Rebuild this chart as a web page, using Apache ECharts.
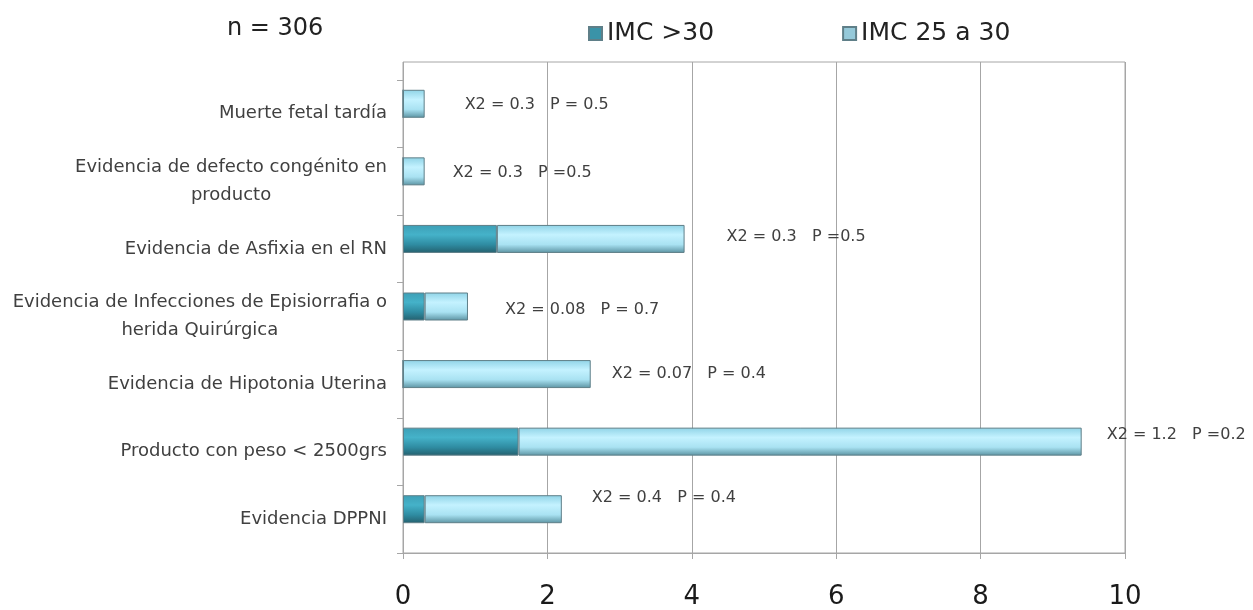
<!DOCTYPE html>
<html><head><meta charset="utf-8">
<script src="https://cdn.jsdelivr.net/npm/echarts@6/dist/echarts.min.js"></script>
<style>html,body{margin:0;padding:0;background:#fff}#c{width:1253px;height:610px}</style>
</head><body><div id="c"></div>
<script>
const categories = [
  "Muerte fetal tardía",
  "Evidencia de defecto congénito en\nproducto",
  "Evidencia de Asfixia en el RN",
  "Evidencia de Infecciones de Episiorrafia o\nherida Quirúrgica",
  "Evidencia de Hipotonia Uterina",
  "Producto con peso < 2500grs",
  "Evidencia DPPNI"
];
const imcOver30 = [0, 0, 1.3, 0.3, 0, 1.6, 0.3];
const imc25to30 = [0.3, 0.3, 2.6, 0.6, 2.6, 7.8, 1.9];
const annotations = [
  "X2 = 0.3   P = 0.5",
  "X2 = 0.3   P =0.5",
  "X2 = 0.3   P =0.5",
  "X2 = 0.08   P = 0.7",
  "X2 = 0.07   P = 0.4",
  "X2 = 1.2   P =0.2",
  "X2 = 0.4   P = 0.4"
];
const xTicks = { min: 0, max: 10, interval: 2 };
const seriesNames = ["IMC >30", "IMC 25 a 30"];
const titleText = "n = 306";

// layout only: label shifts relative to bar end
const labelShift = [[40,1],[28,1],[42,-2],[37,3],[21,0],[25,-7],[30,-11]];

const FONT = 'DejaVu Sans';
const darkFill = new echarts.graphic.LinearGradient(0,0,0,1,[
  {offset:0,color:'#3d9fb6'},{offset:0.35,color:'#45b2c9'},{offset:0.7,color:'#2f8ca2'},{offset:1,color:'#24606e'}]);
const lightFill = new echarts.graphic.LinearGradient(0,0,0,1,[
  {offset:0,color:'#8fd3e6'},{offset:0.35,color:'#c4f2ff'},{offset:0.7,color:'#a9e2f2'},{offset:1,color:'#5b93a2'}]);

const chart = echarts.init(document.getElementById('c'), null, {renderer:'canvas'});
const gridCommon = { left: 403, width: 722 };
const gray = '#a6a6a6';
chart.setOption({
  animation: false,
  title: { text: titleText, left: 222, top: 12, textStyle: { fontFamily: FONT, fontSize: 24, fontWeight: 'normal', color: '#222' } },
  legend: {
    data: [{name: seriesNames[0], itemStyle:{color:'#3a93a8'}}, {name: seriesNames[1], itemStyle:{color:'#95c9d9'}}],
    left: 583, top: 16, icon: 'rect', itemWidth: 13, itemHeight: 13, itemGap: 128,
    textStyle: { fontFamily: FONT, fontSize: 25, color: '#222' }
  },
  grid: [
    Object.assign({ top: 80, height: 473 }, gridCommon),
    Object.assign({ top: 70, height: 473 }, gridCommon),
    Object.assign({ top: 62, height: 491, show: true, borderColor: gray, borderWidth: 1 }, gridCommon)
  ],
  xAxis: [
    { gridIndex: 0, type: 'value', min: xTicks.min, max: xTicks.max, show: false },
    { gridIndex: 1, type: 'value', min: xTicks.min, max: xTicks.max, show: false },
    { gridIndex: 2, type: 'value', min: xTicks.min, max: xTicks.max, interval: xTicks.interval,
      axisLine: { show: true, lineStyle: { color: gray } },
      axisTick: { show: true, length: 6, lineStyle: { color: gray } },
      splitLine: { show: true, lineStyle: { color: gray, width: 1 } },
      axisLabel: { fontFamily: FONT, fontSize: 26, color: '#1a1a1a', margin: 31 } }
  ],
  yAxis: [
    { gridIndex: 0, type: 'category', inverse: true, data: categories,
      axisLine: { show: true, lineStyle: { color: gray } },
      axisTick: { show: true, length: 6, lineStyle: { color: gray } },
      axisLabel: { margin: 16, fontFamily: FONT, fontSize: 18, color: '#404040', lineHeight: 28,
        formatter: v => v.split('\n').map(s => '{c|' + s + '}').join('\n'),
        rich: { c: { align: 'center', fontFamily: FONT, fontSize: 18, color: '#404040', lineHeight: 28 } } } },
    { gridIndex: 1, type: 'category', inverse: true, data: categories, show: false },
    { gridIndex: 2, type: 'category', data: categories, show: false }
  ],
  series: [
    { name: seriesNames[0], type: 'bar', stack: 's', xAxisIndex: 1, yAxisIndex: 1, barWidth: 28,
      data: imcOver30, itemStyle: { color: darkFill, borderColor: '#5f7f88', borderWidth: 1 } },
    { name: seriesNames[1], type: 'bar', stack: 's', xAxisIndex: 1, yAxisIndex: 1, barWidth: 28,
      data: imc25to30.map((v, i) => ({ value: v, label: { offset: labelShift[i] } })),
      itemStyle: { color: lightFill, borderColor: '#5f7f88', borderWidth: 1 },
      label: { show: true, position: 'right', distance: 0, formatter: p => annotations[p.dataIndex],
        fontFamily: FONT, fontSize: 16, color: '#404040' } }
  ]
});
</script></body></html>
